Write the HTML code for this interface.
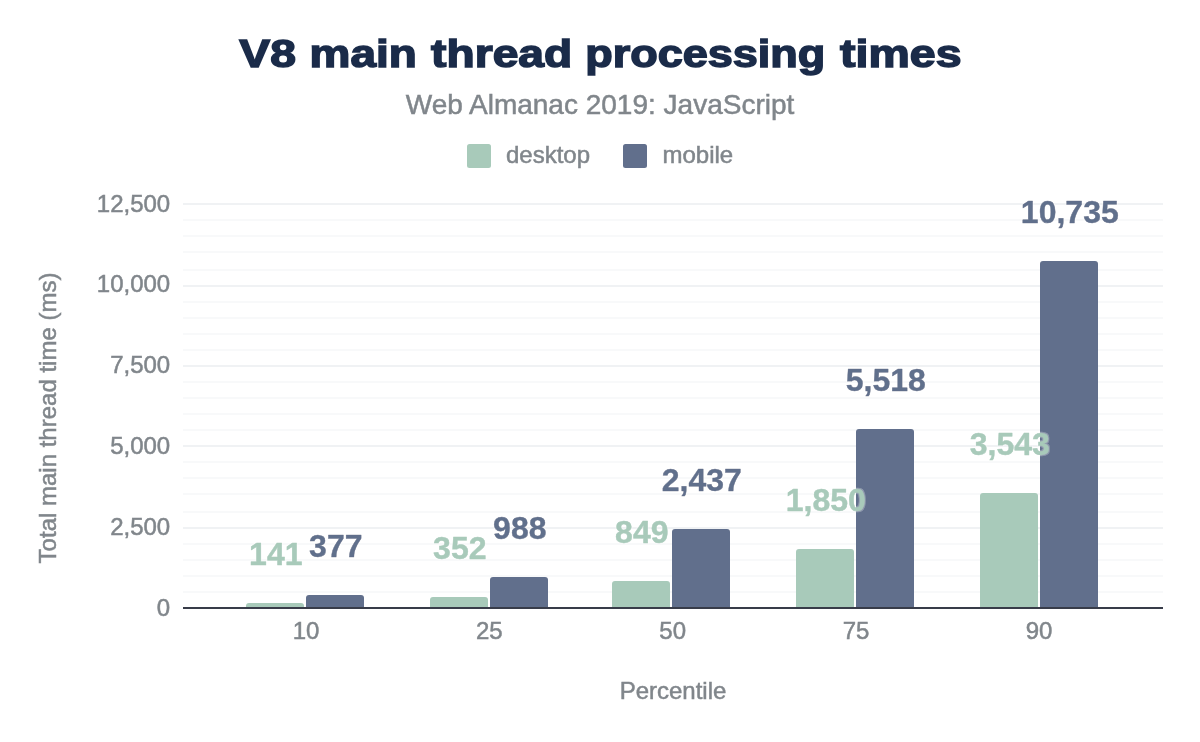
<!DOCTYPE html>
<html lang="en">
<head>
<meta charset="utf-8">
<title>V8 main thread processing times</title>
<style>
html,body{margin:0;padding:0;background:#fff;}
body{width:1200px;height:742px;overflow:hidden;font-family:"Liberation Sans",sans-serif;}
svg{display:block;}
text{font-family:"Liberation Sans",sans-serif;}
.t{font-weight:bold;font-size:39px;fill:#1a2b49;stroke:#1a2b49;stroke-width:1.5px;stroke-linejoin:miter;stroke-miterlimit:3;}
.st{font-size:28px;fill:#80868b;stroke:#80868b;stroke-width:0.5px;}
.ax{font-size:24px;fill:#80868b;stroke:#80868b;stroke-width:0.5px;}
.lg{font-size:24px;fill:#80868b;stroke:#80868b;stroke-width:0.5px;}
.dl{font-weight:bold;font-size:32px;stroke-width:0.45px;stroke-linejoin:round;filter:url(#halo);}
</style>
</head>
<body>
<svg width="1200" height="742" viewBox="0 0 1200 742">
<defs><filter id="halo" x="-5%" y="-10%" width="110%" height="120%"><feMorphology in="SourceAlpha" operator="dilate" radius="0.7" result="d"/><feFlood flood-color="#ffffff" flood-opacity="0.3"/><feComposite in2="d" operator="in" result="h"/><feMerge><feMergeNode in="h"/><feMergeNode in="SourceGraphic"/></feMerge></filter></defs>
<rect width="1200" height="742" fill="#ffffff"/>
<text class="t" x="239.31" y="67.2" textLength="56.54" lengthAdjust="spacingAndGlyphs">V8</text>
<text class="t" x="309.60" y="67.2" textLength="107.21" lengthAdjust="spacingAndGlyphs">main</text>
<text class="t" x="431.11" y="67.2" textLength="141.08" lengthAdjust="spacingAndGlyphs">thread</text>
<text class="t" x="585.19" y="67.2" textLength="240.18" lengthAdjust="spacingAndGlyphs">processing</text>
<text class="t" x="840.12" y="67.2" textLength="121.40" lengthAdjust="spacingAndGlyphs">times</text>
<text class="st" x="600" y="114" text-anchor="middle">Web Almanac 2019: JavaScript</text>
<rect x="467" y="144" width="24" height="24" rx="2.5" fill="#a8caba"/>
<text class="lg" x="506" y="162.5">desktop</text>
<rect x="623" y="144" width="24" height="24" rx="2.5" fill="#616f8c"/>
<text class="lg" x="662.5" y="162.5">mobile</text>
<g shape-rendering="crispEdges">
<rect x="183" y="591" width="980" height="2" fill="#f8f9fa"/>
<rect x="183" y="575" width="980" height="2" fill="#f8f9fa"/>
<rect x="183" y="559" width="980" height="2" fill="#f8f9fa"/>
<rect x="183" y="543" width="980" height="2" fill="#f8f9fa"/>
<rect x="183" y="527" width="980" height="2" fill="#f0f2f4"/>
<rect x="183" y="511" width="980" height="2" fill="#f8f9fa"/>
<rect x="183" y="493" width="980" height="2" fill="#f8f9fa"/>
<rect x="183" y="477" width="980" height="2" fill="#f8f9fa"/>
<rect x="183" y="461" width="980" height="2" fill="#f8f9fa"/>
<rect x="183" y="445" width="980" height="2" fill="#f0f2f4"/>
<rect x="183" y="429" width="980" height="2" fill="#f8f9fa"/>
<rect x="183" y="413" width="980" height="2" fill="#f8f9fa"/>
<rect x="183" y="397" width="980" height="2" fill="#f8f9fa"/>
<rect x="183" y="381" width="980" height="2" fill="#f8f9fa"/>
<rect x="183" y="365" width="980" height="2" fill="#f0f2f4"/>
<rect x="183" y="349" width="980" height="2" fill="#f8f9fa"/>
<rect x="183" y="333" width="980" height="2" fill="#f8f9fa"/>
<rect x="183" y="317" width="980" height="2" fill="#f8f9fa"/>
<rect x="183" y="301" width="980" height="2" fill="#f8f9fa"/>
<rect x="183" y="285" width="980" height="2" fill="#f0f2f4"/>
<rect x="183" y="269" width="980" height="2" fill="#f8f9fa"/>
<rect x="183" y="251" width="980" height="2" fill="#f8f9fa"/>
<rect x="183" y="235" width="980" height="2" fill="#f8f9fa"/>
<rect x="183" y="219" width="980" height="2" fill="#f8f9fa"/>
<rect x="183" y="203" width="980" height="2" fill="#f0f2f4"/>
</g>
<text class="ax" x="170.2" y="615.6" text-anchor="end">0</text>
<text class="ax" x="170.2" y="534.8" text-anchor="end">2,500</text>
<text class="ax" x="170.2" y="454.0" text-anchor="end">5,000</text>
<text class="ax" x="170.2" y="373.2" text-anchor="end">7,500</text>
<text class="ax" x="170.2" y="292.4" text-anchor="end">10,000</text>
<text class="ax" x="170.2" y="211.6" text-anchor="end">12,500</text>
<path d="M246.0 608.0V606.0Q246.0 603.0 249.0 603.0H301.0Q304.0 603.0 304.0 606.0V608.0Z" fill="#a8caba"/>
<path d="M306.0 608.0V598.0Q306.0 595.0 309.0 595.0H361.0Q364.0 595.0 364.0 598.0V608.0Z" fill="#616f8c"/>
<path d="M430.0 608.0V600.0Q430.0 597.0 433.0 597.0H485.0Q488.0 597.0 488.0 600.0V608.0Z" fill="#a8caba"/>
<path d="M490.0 608.0V580.0Q490.0 577.0 493.0 577.0H545.0Q548.0 577.0 548.0 580.0V608.0Z" fill="#616f8c"/>
<path d="M612.0 608.0V584.0Q612.0 581.0 615.0 581.0H667.0Q670.0 581.0 670.0 584.0V608.0Z" fill="#a8caba"/>
<path d="M672.0 608.0V532.0Q672.0 529.0 675.0 529.0H727.0Q730.0 529.0 730.0 532.0V608.0Z" fill="#616f8c"/>
<path d="M796.0 608.0V552.0Q796.0 549.0 799.0 549.0H851.0Q854.0 549.0 854.0 552.0V608.0Z" fill="#a8caba"/>
<path d="M856.0 608.0V432.0Q856.0 429.0 859.0 429.0H911.0Q914.0 429.0 914.0 432.0V608.0Z" fill="#616f8c"/>
<path d="M980.0 608.0V496.0Q980.0 493.0 983.0 493.0H1035.0Q1038.0 493.0 1038.0 496.0V608.0Z" fill="#a8caba"/>
<path d="M1040.0 608.0V264.0Q1040.0 261.0 1043.0 261.0H1095.0Q1098.0 261.0 1098.0 264.0V608.0Z" fill="#616f8c"/>
<rect x="183" y="607" width="980" height="2" fill="#383c49"/>
<text class="dl" x="275.8" y="564.5" text-anchor="middle" fill="#a8caba" stroke="#a8caba">141</text>
<text class="dl" x="335.8" y="556.5" text-anchor="middle" fill="#616f8c" stroke="#616f8c">377</text>
<text class="dl" x="459.8" y="558.5" text-anchor="middle" fill="#a8caba" stroke="#a8caba">352</text>
<text class="dl" x="519.8" y="538.5" text-anchor="middle" fill="#616f8c" stroke="#616f8c">988</text>
<text class="dl" x="641.8" y="542.5" text-anchor="middle" fill="#a8caba" stroke="#a8caba">849</text>
<text class="dl" x="701.8" y="490.5" text-anchor="middle" fill="#616f8c" stroke="#616f8c">2,437</text>
<text class="dl" x="825.8" y="510.5" text-anchor="middle" fill="#a8caba" stroke="#a8caba">1,850</text>
<text class="dl" x="885.8" y="390.5" text-anchor="middle" fill="#616f8c" stroke="#616f8c">5,518</text>
<text class="dl" x="1009.8" y="454.5" text-anchor="middle" fill="#a8caba" stroke="#a8caba">3,543</text>
<text class="dl" x="1069.8" y="222.5" text-anchor="middle" fill="#616f8c" stroke="#616f8c">10,735</text>
<text class="ax" x="306.0" y="639" text-anchor="middle">10</text>
<text class="ax" x="489.3" y="639" text-anchor="middle">25</text>
<text class="ax" x="672.7" y="639" text-anchor="middle">50</text>
<text class="ax" x="856.0" y="639" text-anchor="middle">75</text>
<text class="ax" x="1039.0" y="639" text-anchor="middle">90</text>
<text class="ax" x="673" y="699" text-anchor="middle">Percentile</text>
<text class="ax" transform="translate(56 418) rotate(-90)" text-anchor="middle">Total main thread time (ms)</text>
</svg>
</body>
</html>
